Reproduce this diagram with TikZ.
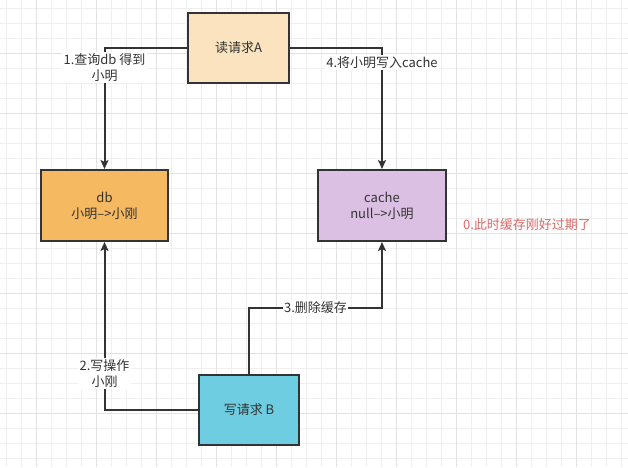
\documentclass[tikz,border=0pt]{standalone}
\usepackage{fontspec}
\setmainfont{Noto Sans CJK SC}
\usetikzlibrary{arrows.meta}
\definecolor{ink}{HTML}{333333}
\definecolor{fillA}{HTML}{FAE3BE}
\definecolor{filldb}{HTML}{F5B962}
\definecolor{fillcache}{HTML}{DCC0E4}
\definecolor{fillB}{HTML}{6ECDE0}
\definecolor{redtxt}{HTML}{E26666}
\definecolor{gridminor}{HTML}{EFEFEF}
\definecolor{gridmajor}{HTML}{E2E2E2}
\tikzset{
  box/.style={draw=ink, line width=2pt, text=ink, align=center, inner sep=0pt,
    font=\fontsize{13}{16}\selectfont},
  conn/.style={draw=ink, line width=2pt, -{Stealth[length=9pt,width=8pt,inset=2pt]}},
  lbl/.style={fill=white, text=ink, align=center, inner sep=1.5pt,
    font=\fontsize{13}{16}\selectfont},
}
\begin{document}
\begin{tikzpicture}[x=1pt,y=-1pt]
\useasboundingbox (0,0) rectangle (628,467);
\fill[white] (0,0) rectangle (628,467);
\foreach \x in {6,21,...,621} \draw[gridminor, line width=1pt] (\x,0) -- (\x,467);
\foreach \y in {8,23,...,458} \draw[gridminor, line width=1pt] (0,\y) -- (628,\y);
\foreach \x in {36,96,...,596} \draw[gridmajor, line width=1pt] (\x,0) -- (\x,467);
\foreach \y in {53,113,...,413} \draw[gridmajor, line width=1pt] (0,\y) -- (628,\y);

\node[box, fill=fillA, minimum width=101pt, minimum height=70pt] (A) at (238.5,48) {读请求A};
\node[box, fill=filldb, minimum width=127pt, minimum height=71pt] (db) at (104.5,205.5) {db\\小明-->小刚};
\node[box, fill=fillcache, minimum width=128pt, minimum height=71pt] (cache) at (382,205.5) {cache\\null-->小明};
\node[box, fill=fillB, minimum width=100pt, minimum height=70pt] (B) at (249,410) {写请求 B};
\node[text=redtxt, font=\fontsize{13}{16}\selectfont] (note) at (527,225) {0.此时缓存刚好过期了};

\draw[conn] (A.west) -| node[lbl, pos=0.582] {1.查询db 得到\\小明} (db.north);
\draw[conn] (A.east) -| node[lbl, pos=0.561] {4.将小明写入cache} (cache.north);
\draw[conn] (B.west) -| node[lbl, pos=0.609] {2.写操作\\小刚} (db.south);
\draw[conn] (B.north) -- ++(0,-66) coordinate (c3) -| node[lbl, pos=0.25] {3.删除缓存} (cache.south);
\end{tikzpicture}
\end{document}
